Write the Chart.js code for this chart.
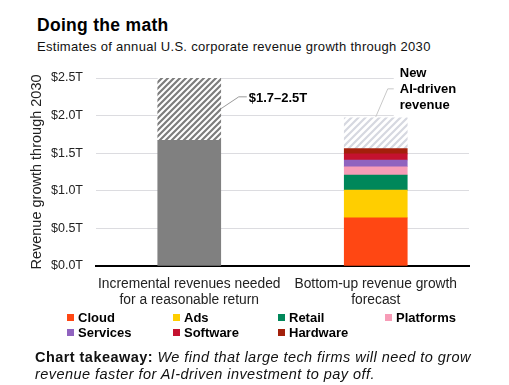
<!DOCTYPE html>
<html>
<head>
<meta charset="utf-8">
<script src="https://cdn.jsdelivr.net/npm/chart.js@4/dist/chart.umd.min.js"></script>
<style>
    body {
        margin: 0;
        width: 509px;
        height: 385px;
        overflow: hidden;
        position: relative;
        background: #fff;
        font-family: "Liberation Sans", Arial, sans-serif;
        color: #000;
    }
    #chart {
        position: absolute;
        left: 0;
        top: 0;
    }
    .title {
        position: absolute;
        left: 37px;
        top: 17px;
        font-size: 17.5px;
        line-height: 17px;
        font-weight: bold;
        letter-spacing: 0.3px;
    }
    .subtitle {
        position: absolute;
        left: 37px;
        top: 40px;
        font-size: 13px;
        line-height: 13px;
        letter-spacing: 0.3px;
        color: #111;
    }
    #legend {
        position: absolute;
        left: 67px;
        top: 311px;
        width: 440px;
    }
    .legend-item {
        position: absolute;
        font-size: 13px;
        line-height: 13px;
        font-weight: bold;
        white-space: nowrap;
    }
    .legend-item span {
        display: inline-block;
        width: 7px;
        height: 7px;
        margin-right: 4px;
        vertical-align: 1px;
    }
    .takeaway {
        position: absolute;
        left: 35px;
        top: 349px;
        width: 474px;
        font-size: 14.5px;
        line-height: 16.5px;
        letter-spacing: 0.45px;
        white-space: nowrap;
        color: #111;
    }
    .takeaway b {
        font-weight: bold;
    }
    .takeaway i {
        font-style: italic;
    }
</style>
</head>
<body>

<div class="title">Doing the math</div>
<div class="subtitle">Estimates of annual U.S. corporate revenue growth through 2030</div>

<canvas id="chart" width="509" height="385"></canvas>

<div id="legend"></div>

<div class="takeaway"><b>Chart takeaway:</b> <i>We find that large tech firms will need to grow<br>revenue faster for AI-driven investment to pay off.</i></div>

<script>

// categories on the x axis
const categories = [
    ["Incremental revenues needed", "for a reasonable return"],
    ["Bottom-up revenue growth", "forecast"]
];

// left bar: low end of the needed range, then the span up to the high end
const neededLow = [1.67, null];
const neededRange = [0.83, null];

// right bar: bottom-up forecast by sector ($T)
const cloud = [null, 0.64];
const ads = [null, 0.37];
const retail = [null, 0.20];
const platforms = [null, 0.11];
const services = [null, 0.09];
const software = [null, 0.08];
const hardware = [null, 0.07];
const newAiRevenue = [null, 0.41];

const sectorNames = ["Cloud", "Ads", "Retail", "Platforms", "Services", "Software", "Hardware"];
const sectorColors = ["#ff4713", "#ffce00", "#00875a", "#f79cb7", "#9063bf", "#c4122f", "#a3200b"];
const sectorValues = [cloud, ads, retail, platforms, services, software, hardware];

// y axis ticks
const yTicks = [0, 0.5, 1.0, 1.5, 2.0, 2.5];

const rangeLabel = "$1.7\u20132.5T";
const aiLabel = ["New", "AI-driven", "revenue"];

function makeHatch(stripe, size, lineWidth) {

    const c = document.createElement("canvas");
    c.width = size;
    c.height = size;

    const g = c.getContext("2d");
    g.fillStyle = "#ffffff";
    g.fillRect(0, 0, size, size);

    g.strokeStyle = stripe;
    g.lineWidth = lineWidth;
    g.beginPath();
    g.moveTo(-1, size + 1);
    g.lineTo(size + 1, -1);
    g.moveTo(-size / 2 - 1, size / 2 + 1);
    g.lineTo(size / 2 + 1, -size / 2 - 1);
    g.moveTo(size / 2 - 1, size * 1.5 + 1);
    g.lineTo(size * 1.5 + 1, size / 2 - 1);
    g.stroke();

    return g.createPattern(c, "repeat");

}

const darkHatch = makeHatch("#7d7d7d", 6, 2.2);
const lightHatch = makeHatch("#d6d8e0", 7, 2.2);

const datasets = [];

datasets.push({
    label: "Needed (low)",
    data: neededLow,
    backgroundColor: "#808080"
});

sectorNames.forEach((name, i) => {
    datasets.push({
        label: name,
        data: sectorValues[i],
        backgroundColor: sectorColors[i]
    });
});

datasets.push({
    label: "Needed (range)",
    data: neededRange,
    backgroundColor: darkHatch
});

datasets.push({
    label: "New AI-driven revenue",
    data: newAiRevenue,
    backgroundColor: lightHatch
});

const rangeIndex = datasets.length - 2;
const aiIndex = datasets.length - 1;

// html legend for the sectors, 4 columns
const legend = document.getElementById("legend");
const colX = [0, 106, 211, 318];

sectorNames.forEach((name, i) => {

    const item = document.createElement("div");
    item.className = "legend-item";
    item.style.left = colX[i % 4] + "px";
    item.style.top = Math.floor(i / 4) * 15 + "px";
    item.innerHTML = '<span style="background:' + sectorColors[i] + '"></span>' + name;
    legend.appendChild(item);

});

const annotations = {

    id: "annotations",

    afterDatasetsDraw(chart) {

        const ctx = chart.ctx;
        const yScale = chart.scales.y;
        const area = chart.chartArea;

        const rangeBar = chart.getDatasetMeta(rangeIndex).data[0];
        const aiBar = chart.getDatasetMeta(aiIndex).data[1];

        ctx.save();

        // white box behind the AI label
        const boxLeft = aiBar.x + 18;
        ctx.fillStyle = "#ffffff";
        ctx.fillRect(boxLeft, 60, area.right - boxLeft + 2, aiBar.y - 61);

        ctx.strokeStyle = "#9a9a9a";
        ctx.lineWidth = 1;

        // leader for the range label
        const rx = rangeBar.x + rangeBar.width / 2;
        const ry = yScale.getPixelForValue(2.09);
        ctx.beginPath();
        ctx.moveTo(rx, ry);
        ctx.lineTo(rx + 18, ry - 12);
        ctx.lineTo(rx + 26, ry - 12);
        ctx.stroke();

        // leader for the AI label
        const ax = aiBar.x;
        const ay = aiBar.y - 1;
        ctx.strokeStyle = "#c8c8c8";
        ctx.beginPath();
        ctx.moveTo(ax, ay);
        ctx.lineTo(ax + 12, ay - 28);
        ctx.lineTo(ax + 18, ay - 28);
        ctx.stroke();

        ctx.fillStyle = "#000";
        ctx.font = "bold 13px 'Liberation Sans', Arial, sans-serif";
        ctx.textBaseline = "middle";
        ctx.textAlign = "left";

        ctx.fillText(rangeLabel, rx + 28, ry - 10);

        aiLabel.forEach((line, i) => {
            ctx.fillText(line, ax + 24, ay - 43 + i * 16);
        });

        ctx.restore();

    }

};

new Chart(document.getElementById("chart"), {

    type: "bar",

    data: {
        labels: categories,
        datasets: datasets
    },

    options: {

        responsive: false,
        animation: false,
        devicePixelRatio: 1,

        layout: {
            padding: {
                top: 78,
                right: 40,
                bottom: 0,
                left: 0
            }
        },

        datasets: {
            bar: {
                barThickness: 63,
                borderWidth: 0
            }
        },

        plugins: {
            legend: { display: false },
            tooltip: { enabled: false },
            title: { display: false }
        },

        scales: {

            x: {
                stacked: true,
                afterFit: (scale) => {
                    scale.height = 119;
                },
                grid: {
                    display: false,
                    drawTicks: false
                },
                border: {
                    display: true,
                    color: "#000",
                    width: 2
                },
                ticks: {
                    padding: 11,
                    maxRotation: 0,
                    autoSkip: false,
                    color: "#222",
                    font: {
                        family: "'Liberation Sans', Arial, sans-serif",
                        size: 13.8,
                        lineHeight: 1.1
                    }
                }
            },

            y: {
                stacked: true,
                min: 0,
                max: 2.5,
                afterFit: (scale) => {
                    scale.width = 96;
                },
                afterBuildTicks: (scale) => {
                    scale.ticks = yTicks.map(v => ({ value: v }));
                },
                grid: {
                    drawTicks: false,
                    color: (c) => c.tick && c.tick.value === 0 ? "rgba(0,0,0,0)" : "#dcdce0",
                    lineWidth: 1
                },
                border: {
                    display: false
                },
                ticks: {
                    padding: 13,
                    color: "#222",
                    font: {
                        family: "'Liberation Sans', Arial, sans-serif",
                        size: 12.5
                    },
                    callback: (v) => "$" + Number(v).toFixed(1) + "T"
                },
                title: {
                    display: true,
                    text: "Revenue growth through 2030",
                    color: "#222",
                    padding: { top: 28, bottom: 0 },
                    font: {
                        family: "'Liberation Sans', Arial, sans-serif",
                        size: 14.5
                    }
                }
            }

        }

    },

    plugins: [annotations]

});

</script>
</body>
</html>
